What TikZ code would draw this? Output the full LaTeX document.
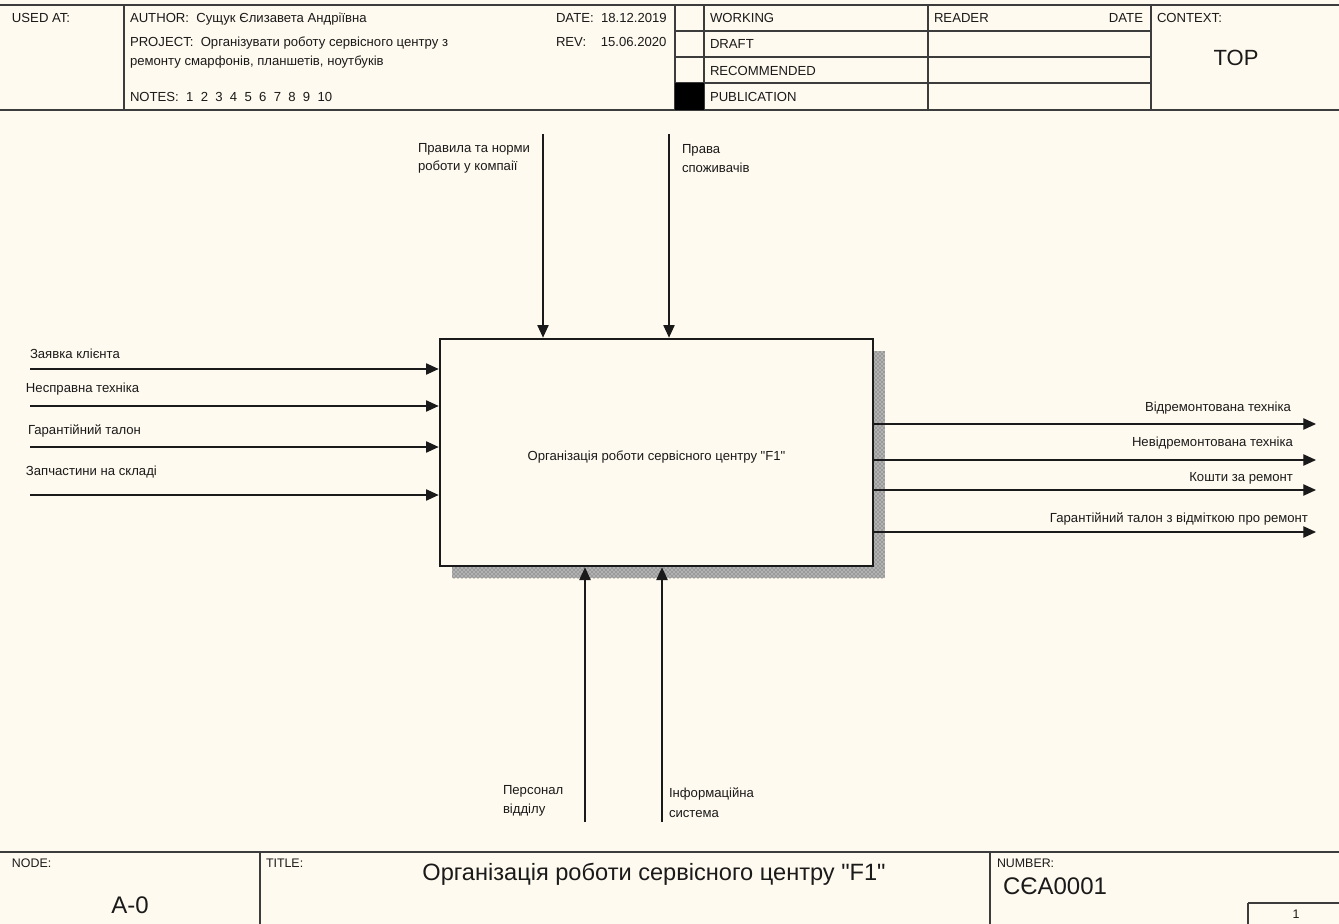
\documentclass[tikz,border=0pt]{standalone}
\usepackage{fontspec}
\setmainfont{Liberation Sans}
\usetikzlibrary{arrows.meta,patterns}
\definecolor{bg}{HTML}{FFFAEF}
\definecolor{ink}{HTML}{1A1A1A}
\tikzset{
  frame/.style={draw=ink!85, line width=1.1pt},
  txt/.style={inner sep=0pt, outer sep=0pt, font=\fontsize{9.85}{11}\selectfont, text=ink},
  lw/.style={txt, anchor=base west},
  le/.style={txt, anchor=base east},
  small/.style={font=\fontsize{9.3}{10}\selectfont},
  flow/.style={draw=ink, line width=0.95pt, -{Triangle[length=9.5pt,width=8.5pt]}},
  actbox/.style={draw=ink, line width=2pt, fill=bg, minimum width=324.75pt, minimum height=170.25pt, inner sep=0pt,
    font=\fontsize{9.85}{11}\selectfont, text=ink},
}
\begin{document}
\begin{tikzpicture}[x=0.75pt,y=-0.75pt]
\fill[bg] (0,0) rectangle (1339,924);
\useasboundingbox (0,0) rectangle (1339,924);

% ---------- header ----------
\draw[frame] (0,5) -- (1339,5);
\draw[frame] (0,110) -- (1339,110);
\draw[frame] (124,5) -- (124,110);
\draw[frame] (675,5) -- (675,110);
\draw[frame] (704,5) -- (704,110);
\draw[frame] (928,5) -- (928,110);
\draw[frame] (1151,5) -- (1151,110);
\draw[frame] (675,31) -- (1151,31);
\draw[frame] (675,57) -- (1151,57);
\draw[frame] (675,83) -- (1151,83);
\fill[black] (675,83) rectangle (704,110);

\node[lw] (usedat) at (12,23) {USED AT:};
\node[lw] (author) at (130,23) {AUTHOR:\ \ Сущук Єлизавета Андріївна};
\node[lw] (proj1) at (130,47) {PROJECT:\ \ Організувати роботу сервісного центру з};
\node[lw] (proj2) at (130,66) {ремонту смарфонів, планшетів, ноутбуків};
\node[lw] (notes) at (130,102) {NOTES:\ \ 1\ \ 2\ \ 3\ \ 4\ \ 5\ \ 6\ \ 7\ \ 8\ \ 9\ \ 10};
\node[lw] (date) at (556,23) {DATE:\ \ 18.12.2019};
\node[lw] (rev) at (556,47) {REV:\ \ \ \ 15.06.2020};
\node[lw] (working) at (710,23) {WORKING};
\node[lw] (draft) at (710,49) {DRAFT};
\node[lw] (recom) at (710,76) {RECOMMENDED};
\node[lw] (publ) at (710,102) {PUBLICATION};
\node[lw] (reader) at (934,23) {READER};
\node[le] (rdate) at (1143,23) {DATE};
\node[lw] (context) at (1157,23) {CONTEXT:};
\node[txt, anchor=base, font=\fontsize{16.5}{18}\selectfont] (top) at (1236,66) {TOP};

% ---------- footer ----------
\draw[frame] (0,852) -- (1339,852);
\draw[frame] (260,852) -- (260,924);
\draw[frame] (990,852) -- (990,924);
\draw[frame] (1248,903) -- (1248,924);
\draw[frame] (1248,903) -- (1339,903);
\node[lw, small] (nodelbl) at (12,867) {NODE:};
\node[lw, small] (titlelbl) at (266,867) {TITLE:};
\node[lw, small] (numlbl) at (997,867) {NUMBER:};
\node[txt, anchor=base, font=\fontsize{18}{20}\selectfont] (nodeid) at (130,913) {A-0};
\node[txt, anchor=base, font=\fontsize{17.7}{20}\selectfont] (title) at (654,880) {Організація роботи сервісного центру \textquotedbl F1\textquotedbl};
\node[txt, anchor=base west, font=\fontsize{18}{20}\selectfont] (number) at (1003,894) {CЄA0001};
\node[txt, anchor=base, small] (page) at (1296,918) {1};

% ---------- activity ----------
\fill[black!30] (873,351) rectangle (885,578);
\fill[black!30] (452,566) rectangle (873,578);
\fill[pattern=crosshatch dots, pattern color=black!70] (873,351) rectangle (885,578);
\fill[pattern=crosshatch dots, pattern color=black!70] (452,566) rectangle (873,578);
\node[actbox] (f1) at (656.5,452.5) {\raisebox{-3.5pt}[\height][\depth]{Організація роботи сервісного центру \textquotedbl F1\textquotedbl}};

% inputs
\coordinate (i1) at (30,369);
\coordinate (i2) at (30,406);
\coordinate (i3) at (30,447);
\coordinate (i4) at (30,495);
\draw[flow] (i1) -- (i1 -| f1.west);
\draw[flow] (i2) -- (i2 -| f1.west);
\draw[flow] (i3) -- (i3 -| f1.west);
\draw[flow] (i4) -- (i4 -| f1.west);
\node[lw] (li1) at (30,358) {Заявка клієнта};
\node[lw] (li2) at (26,392) {Несправна техніка};
\node[lw] (li3) at (28,434) {Гарантійний талон};
\node[lw] (li4) at (26,475) {Запчастини на складі};

% controls
\coordinate (c1) at (543,134);
\coordinate (c2) at (669,134);
\draw[flow] (c1) -- (c1 |- f1.north);
\draw[flow] (c2) -- (c2 |- f1.north);
\node[lw] (lc1a) at (418,152) {Правила та норми};
\node[lw] (lc1b) at (418,171) {роботи у компаії};
\node[lw] (lc2a) at (682,153) {Права};
\node[lw] (lc2b) at (682,172) {споживачів};

% mechanisms
\coordinate (m1) at (585,822);
\coordinate (m2) at (662,822);
\draw[flow] (m1) -- (m1 |- f1.south);
\draw[flow] (m2) -- (m2 |- f1.south);
\node[lw] (lm1a) at (503,794) {Персонал};
\node[lw] (lm1b) at (503,813) {відділу};
\node[lw] (lm2a) at (669,797) {Інформаційна};
\node[lw] (lm2b) at (669,817) {система};

% outputs
\coordinate (o1) at (1316,424);
\coordinate (o2) at (1316,460);
\coordinate (o3) at (1316,490);
\coordinate (o4) at (1316,532);
\draw[flow] (o1 -| f1.east) -- (o1);
\draw[flow] (o2 -| f1.east) -- (o2);
\draw[flow] (o3 -| f1.east) -- (o3);
\draw[flow] (o4 -| f1.east) -- (o4);
\node[le] (lo1) at (1291,411) {Відремонтована техніка};
\node[le] (lo2) at (1293,446) {Невідремонтована техніка};
\node[le] (lo3) at (1293,481) {Кошти за ремонт};
\node[le] (lo4) at (1308,522) {Гарантійний талон з відміткою про ремонт};
\end{tikzpicture}
\end{document}
